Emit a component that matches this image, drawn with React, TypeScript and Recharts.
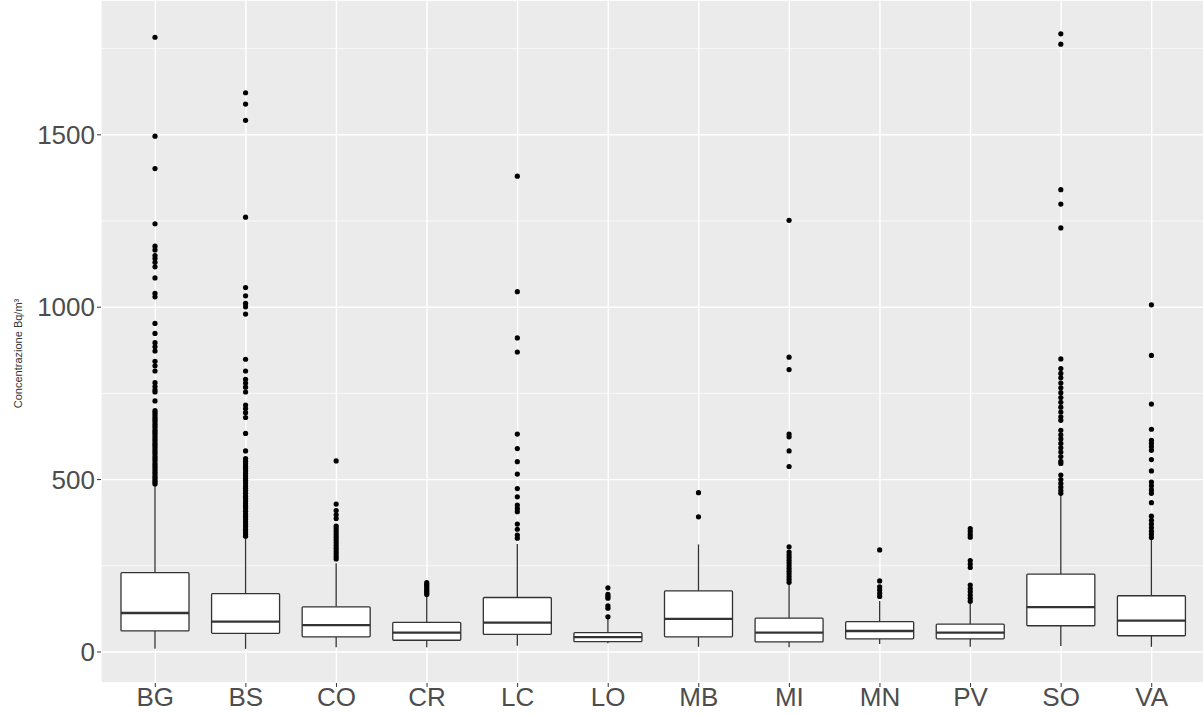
import React from 'react';
import { ComposedChart, Bar, XAxis, YAxis, CartesianGrid } from 'recharts';

const categories = ['BG', 'BS', 'CO', 'CR', 'LC', 'LO', 'MB', 'MI', 'MN', 'PV', 'SO', 'VA'];
const whiskerLow = [9, 9, 14, 14, 18, 25, 15, 14, 23, 15, 17, 15];
const quartile1 = [61, 54, 44, 34, 51, 30, 44, 29, 38, 38, 76, 47];
const medians = [113, 88, 78, 56, 85, 43, 96, 56, 61, 56, 130, 91];
const quartile3 = [230, 169, 131, 86, 158, 56, 177, 98, 88, 81, 226, 163];
const whiskerHigh = [480, 330, 257, 165, 313, 98, 312, 199, 148, 141, 458, 332];

const outBG = [1783, 1496, 1402, 1242, 1177, 1166, 1150, 1141, 1130, 1117, 1085, 1040, 1030, 953, 924, 897, 885, 873, 843, 830, 815, 781, 770, 760, 754, 728, 700, 694, 688, 681, 675, 669, 662, 656, 650, 643, 637, 631, 624, 618, 612, 605, 599, 593, 586, 580, 574, 567, 561, 555, 548, 542, 536, 529, 523, 517, 510, 504, 498, 492, 487];
const outBS = [1622, 1589, 1542, 1261, 1057, 1033, 1011, 1001, 980, 849, 815, 791, 780, 768, 754, 716, 706, 694, 680, 634, 583, 561, 553, 546, 539, 532, 525, 518, 511, 504, 497, 490, 482, 475, 468, 460, 452, 445, 438, 430, 423, 416, 408, 400, 393, 386, 378, 371, 364, 356, 349, 342, 336];
const outCO = [554, 429, 410, 398, 387, 365, 357, 349, 341, 333, 325, 317, 309, 301, 293, 285, 277, 270];
const outCR = [201, 196, 191, 186, 181, 176, 171, 167];
const outLC = [1380, 1045, 911, 870, 632, 590, 552, 516, 474, 450, 426, 416, 407, 371, 356, 339, 330];
const outLO = [186, 167, 161, 156, 134, 127, 102];
const outMB = [462, 392];
const outMI = [1252, 855, 819, 632, 624, 583, 538, 305, 290, 282, 274, 266, 258, 250, 242, 234, 226, 218, 210, 202];
const outMN = [296, 206, 189, 180, 170, 161];
const outPV = [358, 350, 341, 333, 265, 255, 245, 194, 184, 175, 165, 156, 147];
const outSO = [1793, 1763, 1341, 1299, 1230, 850, 822, 808, 795, 780, 766, 752, 738, 724, 710, 696, 682, 672, 643, 630, 618, 605, 592, 580, 567, 553, 547, 513, 500, 489, 478, 468, 460];
const outVA = [1007, 860, 719, 646, 614, 605, 595, 585, 558, 525, 493, 482, 470, 460, 433, 394, 382, 371, 360, 350, 341, 332];
const outliers = [outBG, outBS, outCO, outCR, outLC, outLO, outMB, outMI, outMN, outPV, outSO, outVA];

const majorTicks = [0, 500, 1000, 1500];
const minorTicks = [250, 750, 1250, 1750];
const yDomain = [-90, 1891];

const data = categories.map((c, i) => ({
  cat: c,
  range: [whiskerLow[i], whiskerHigh[i]],
  lo: whiskerLow[i],
  q1: quartile1[i],
  med: medians[i],
  q3: quartile3[i],
  hi: whiskerHigh[i],
  out: outliers[i],
}));

const STROKE = '#333333';
const FONT = 'Liberation Sans, Arial, sans-serif';

const BoxShape = (props: any) => {
  const { x, y, width, height, payload } = props;
  if (!payload) return null;
  const { lo, hi, q1, med, q3, out } = payload;
  const yHi = y;
  const yLo = y + height;
  const sc = (v: number) => yLo + ((v - lo) * (yHi - yLo)) / (hi - lo);
  const cx = x + width / 2;
  return (
    <g>
      <line x1={cx} x2={cx} y1={sc(lo)} y2={sc(q1)} stroke={STROKE} strokeWidth={1.3} />
      <line x1={cx} x2={cx} y1={sc(q3)} y2={sc(hi)} stroke={STROKE} strokeWidth={1.3} />
      <rect
        x={x}
        y={sc(q3)}
        width={width}
        height={sc(q1) - sc(q3)}
        fill="#FFFFFF"
        stroke={STROKE}
        strokeWidth={1.3}
        rx={1}
      />
      <line x1={x} x2={x + width} y1={sc(med)} y2={sc(med)} stroke={STROKE} strokeWidth={2.4} />
      {out.map((v: number, k: number) => (
        <circle key={k} cx={cx} cy={sc(v)} r={2.6} fill="#000000" />
      ))}
    </g>
  );
};

const YLabel = (props: any) => {
  const vb = props.viewBox || {};
  const cx = (vb.x || 0) + 18;
  const cy = (vb.y || 0) + (vb.height || 0) / 2 + 12;
  return (
    <text
      x={cx}
      y={cy}
      transform={`rotate(-90, ${cx}, ${cy})`}
      textAnchor="middle"
      dominantBaseline="central"
      fontSize={11}
      fill="#333333"
      fontFamily={FONT}
    >
      Concentrazione Bq/m³
    </text>
  );
};

export default function App() {
  return (
    <div style={{ position: 'absolute', left: 0, top: 0, width: 1203, height: 715, background: '#FFFFFF' }}>
      <ComposedChart
        width={1203}
        height={715}
        data={data}
        margin={{ top: 0, right: -3, bottom: 0, left: 0 }}
      >
        <CartesianGrid fill="#EBEBEB" stroke="#FFFFFF" strokeWidth={1.4} yAxisId="major" />
        <CartesianGrid stroke="#FFFFFF" strokeWidth={0.7} vertical={false} yAxisId="minor" />
        <XAxis
          dataKey="cat"
          height={32}
          padding={{ left: 9, right: 9 }}
          axisLine={false}
          tickSize={4}
          tickMargin={1}
          tickLine={{ stroke: STROKE }}
          tick={{ fontSize: 26, fill: '#4D4D4D', fontFamily: FONT }}
          interval={0}
        />
        <YAxis
          yAxisId="major"
          width={101}
          type="number"
          domain={yDomain}
          ticks={majorTicks}
          allowDataOverflow
          axisLine={false}
          tickSize={4}
          tickMargin={2}
          tickLine={{ stroke: STROKE }}
          tick={{ fontSize: 26, fill: '#4D4D4D', fontFamily: FONT }}
          label={<YLabel />}
        />
        <YAxis
          yAxisId="minor"
          hide
          type="number"
          domain={yDomain}
          ticks={minorTicks}
          allowDataOverflow
        />
        <Bar
          yAxisId="major"
          dataKey="range"
          barSize={68}
          shape={<BoxShape />}
          isAnimationActive={false}
        />
      </ComposedChart>
    </div>
  );
}
